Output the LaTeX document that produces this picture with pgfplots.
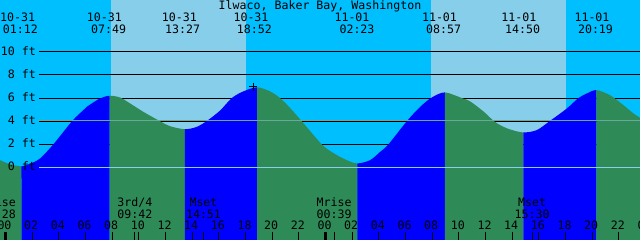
\documentclass[border=0pt]{standalone}
\usepackage{pgfplots}
\pgfplotsset{compat=1.18}
\usepackage{pgfplotstable}
\usepgfplotslibrary{fillbetween}
\usepackage{fontspec}
\setmainfont{DejaVu Sans Mono}
\definecolor{night}{HTML}{00BFFF}
\definecolor{day}{HTML}{87CEEB}
\definecolor{rise}{HTML}{0000FF}
\definecolor{fall}{HTML}{2E8B57}
\definecolor{msl}{HTML}{6AA89E}
\definecolor{datum}{HTML}{8ACFEA}
\pgfplotstableread{
h ft
-0.41 0.63
0.34 0.28
1.2 0.10
1.84 0.32
2.59 0.78
3.59 2.00
5.01 4.03
5.84 4.96
6.09 5.24
7.09 5.97
7.817 6.20
8.59 6.05
9.34 5.54
10.34 4.81
11.59 4.00
12.34 3.57
13.45 3.31
14.34 3.51
15.10 4.02
16.09 4.92
16.97 6.00
17.84 6.58
18.867 6.93
19.84 6.58
20.59 6.00
21.34 5.15
22.22 4.00
23.72 2.00
24.59 1.25
25.60 0.63
26.383 0.35
27.34 0.63
28.10 1.35
28.72 2.00
30.10 4.00
31.10 5.24
31.97 6.05
32.95 6.49
34.23 6.00
34.84 5.72
35.84 4.85
36.59 4.05
37.10 3.66
37.84 3.29
38.833 3.03
39.84 3.23
40.84 4.03
42.10 5.10
42.97 6.00
43.60 6.40
44.317 6.69
45.34 6.25
46.34 5.39
47.10 4.67
47.59 4.30
}\tide
\begin{document}
\begin{tikzpicture}
\begin{axis}[
  width=640bp, height=240bp, scale only axis,
  at={(0,0)}, anchor=south west,
  xmin=-0.4125, xmax=47.5875, ymin=-6.27, ymax=14.48,
  axis lines=none, ticks=none, set layers,
]
\addplot[on layer=axis background, fill=night, draw=none] coordinates {(-1,-7) (-1,15) (49,15) (49,-7)} -- cycle;
\addplot[on layer=axis background, fill=day, draw=none] coordinates {(7.91,-7) (7.91,15) (18.04,15) (18.04,-7)} -- cycle;
\addplot[on layer=axis background, fill=day, draw=none] coordinates {(31.91,-7) (31.91,15) (42.04,15) (42.04,-7)} -- cycle;
\addplot[on layer=axis background, black, line width=1bp, unbounded coords=jump] table {
x y
2.535 0
49 0
nan nan
2.535 2
49 2
nan nan
2.535 4
49 4
nan nan
2.535 6
49 6
nan nan
2.535 8
49 8
nan nan
2.535 10
49 10
};
\addplot[name path=tide, draw=none, smooth] table[x=h, y=ft] {\tide};
\addplot[name path=bot, draw=none] coordinates {(-1,-7) (49,-7)};
\addplot[fill=fall, draw=none] fill between[of=tide and bot, soft clip={domain=-1:1.2}];
\addplot[fill=rise, draw=none] fill between[of=tide and bot, soft clip={domain=1.2:7.817}];
\addplot[fill=fall, draw=none] fill between[of=tide and bot, soft clip={domain=7.817:13.45}];
\addplot[fill=rise, draw=none] fill between[of=tide and bot, soft clip={domain=13.45:18.867}];
\addplot[fill=fall, draw=none] fill between[of=tide and bot, soft clip={domain=18.867:26.383}];
\addplot[fill=rise, draw=none] fill between[of=tide and bot, soft clip={domain=26.383:32.95}];
\addplot[fill=fall, draw=none] fill between[of=tide and bot, soft clip={domain=32.95:38.833}];
\addplot[fill=rise, draw=none] fill between[of=tide and bot, soft clip={domain=38.833:44.317}];
\addplot[fill=fall, draw=none] fill between[of=tide and bot, soft clip={domain=44.317:49}];
\addplot[msl, line width=1bp] coordinates {(2.535,4.08) (49,4.08)};
\addplot[datum, line width=1bp] coordinates {(2.535,0) (49,0)};
\addplot[only marks, mark=|, mark size=4.15bp, line width=1bp, black] coordinates {
(2,-5.91) (4,-5.91) (6,-5.91) (8,-5.91) (10,-5.91) (12,-5.91) (14,-5.91) (16,-5.91) (18,-5.91) (20,-5.91) (22,-5.91)
(26,-5.91) (28,-5.91) (30,-5.91) (32,-5.91) (34,-5.91) (36,-5.91) (38,-5.91) (40,-5.91) (42,-5.91) (44,-5.91) (46,-5.91)
(9.7,-5.91) (14.85,-5.91) (24.65,-5.91) (39.5,-5.91)};
\addplot[only marks, mark=|, mark size=4.15bp, line width=3bp, black] coordinates {(0,-5.91) (24,-5.91)};
\addplot[only marks, mark=+, mark size=4bp, line width=1bp, black] coordinates {(18.585,6.98)};
\end{axis}
\begin{scope}[x=1bp, y=-1bp, shift={(0bp,240bp)},
  every node/.style={font=\fontsize{11.6bp}{13bp}\selectfont, inner sep=0pt, anchor=base}]
\node at (320,9.5) {Ilwaco, Baker Bay, Washington};
% tide event labels
\node at (17.7,21.7) {10-31};  \node at (20.3,34) {01:12};
\node at (104.3,21.7) {10-31}; \node at (108.7,34) {07:49};
\node at (179.3,21.7) {10-31}; \node at (182.7,34) {13:27};
\node at (251,21.7) {10-31};   \node at (254.3,34) {18:52};
\node at (352,21.7) {11-01};   \node at (357,34) {02:23};
\node at (439.5,21.7) {11-01}; \node at (443.7,34) {08:57};
\node at (518.8,21.7) {11-01}; \node at (522.7,34) {14:50};
\node at (592,21.7) {11-01};   \node at (595.5,34) {20:19};
% level labels
\node[anchor=base east] at (36,55.1) {10 ft};
\node[anchor=base east] at (36,78.2) {8 ft};
\node[anchor=base east] at (36,101.4) {6 ft};
\node[anchor=base east] at (36,124.5) {4 ft};
\node[anchor=base east] at (36,147.7) {2 ft};
\node[anchor=base east] at (36,170.8) {0 ft};
% moon events
\node at (-1.5,206.7) {Mrise}; \node at (-1.5,218.3) {23:28};
\node at (134.8,206.7) {3rd/4}; \node at (134.8,218.3) {09:42};
\node at (203.5,206.7) {Mset}; \node at (203.5,218.3) {14:51};
\node at (334.2,206.7) {Mrise}; \node at (334.2,218.3) {00:39};
\node at (532.2,206.7) {Mset}; \node at (532.2,218.3) {15:30};
% hour labels
\foreach \k in {0,...,24}{
  \pgfmathsetmacro{\xx}{4.5+26.6667*\k}
  \pgfmathtruncatemacro{\hh}{mod(2*\k,24)}
  \node at (\xx,230) {\ifnum\hh<10 0\fi\hh};
}
\end{scope}
\pgfresetboundingbox
\useasboundingbox (0,0) rectangle (640bp,240bp);
\end{tikzpicture}
\end{document}
